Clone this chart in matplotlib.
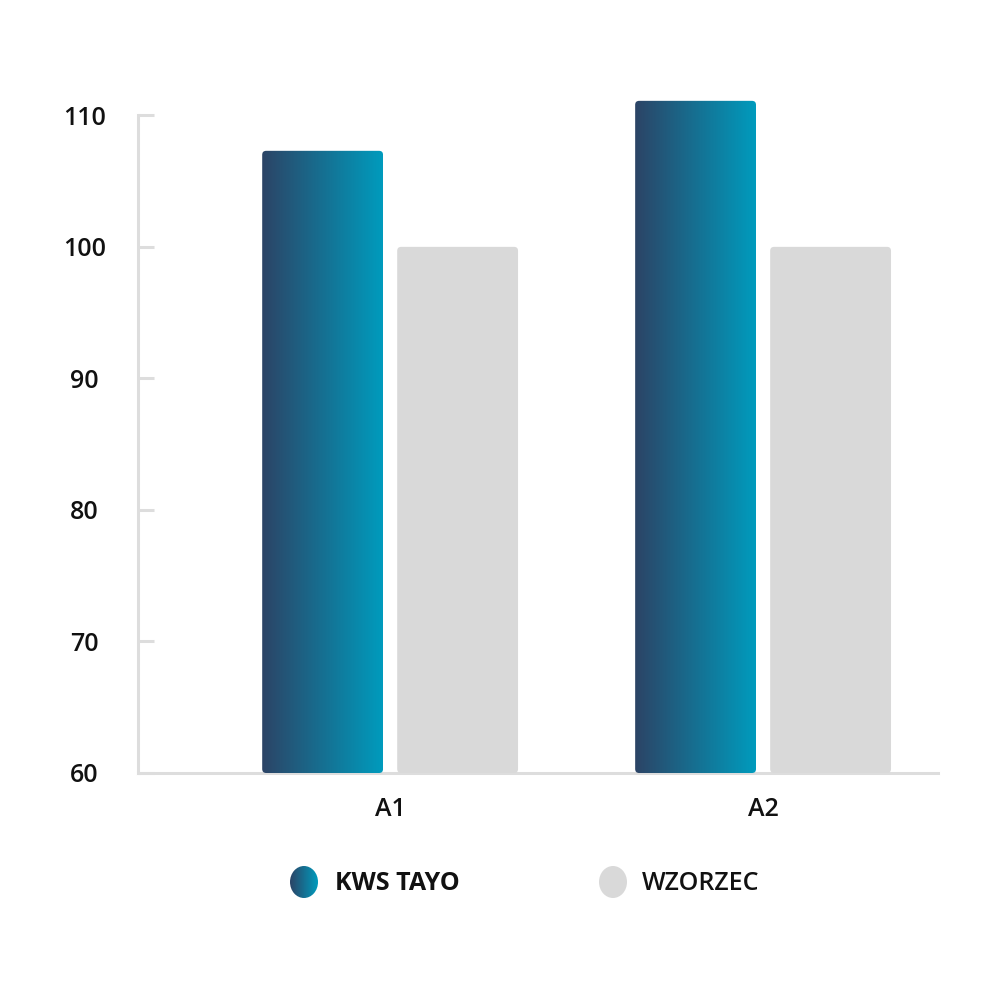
import numpy as np
import matplotlib.pyplot as plt
from matplotlib.patches import FancyBboxPatch, Ellipse
from matplotlib.colors import LinearSegmentedColormap

categories = ["A1", "A2"]
kws_tayo = [107.3, 111.1]
wzorzec = [100.0, 100.0]
series_names = ["KWS TAYO", "WZORZEC"]
y_ticks = [60, 70, 80, 90, 100, 110]

plt.rcParams['font.family'] = ['Open Sans', 'DejaVu Sans']

grad_cmap = LinearSegmentedColormap.from_list('kws', ['#2c4466', '#009bbd'])
grey = '#d9d9d9'
axis_col = '#dddddd'
text_col = '#111111'
FS = 18

fig = plt.figure(figsize=(10, 10), dpi=100)
ax = fig.add_axes([0.138, 0.227, 0.8, 0.684])
XLIM = (-0.676, 1.469)
YLIM = (60, 112)

x = np.arange(len(categories))
bw = 0.324
off = 0.181
base = 60
b1 = ax.bar(x - off, np.array(kws_tayo) - base, bw, bottom=base)
b2 = ax.bar(x + off, np.array(wzorzec) - base, bw, bottom=base)

r = 0.0107
asp = 28.4
grad = np.linspace(0, 1, 256).reshape(1, -1)
for bar in b1:
    bx, by, w, h = bar.get_x(), bar.get_y(), bar.get_width(), bar.get_height()
    bar.set_visible(False)
    p = FancyBboxPatch((bx, by), w, h, boxstyle=f"round,pad=0,rounding_size={r}",
                       mutation_aspect=asp, facecolor='none', edgecolor='none',
                       transform=ax.transData, zorder=3)
    ax.add_patch(p)
    im = ax.imshow(grad, extent=[bx, bx + w, by, by + h], aspect='auto',
                   cmap=grad_cmap, zorder=3, interpolation='bilinear')
    im.set_clip_path(p)
for bar in b2:
    bx, by, w, h = bar.get_x(), bar.get_y(), bar.get_width(), bar.get_height()
    bar.set_visible(False)
    p = FancyBboxPatch((bx, by), w, h, boxstyle=f"round,pad=0,rounding_size={r}",
                       mutation_aspect=asp, facecolor=grey, edgecolor='none',
                       transform=ax.transData, zorder=3, clip_on=False)
    ax.add_patch(p)

ax.set_xlim(*XLIM)
ax.set_ylim(*YLIM)
ax.set_xticks(x)
ax.set_xticklabels(categories)
ax.set_yticks(y_ticks)
for s in ['top', 'right']:
    ax.spines[s].set_visible(False)
for s in ['left', 'bottom']:
    ax.spines[s].set_color(axis_col)
    ax.spines[s].set_linewidth(2.2)
ax.spines['left'].set_bounds(60, 110)
ax.tick_params(axis='y', direction='in', length=11.5, width=2.2, color=axis_col,
               pad=38.5, labelsize=FS, labelcolor=text_col)
ax.tick_params(axis='x', length=0, pad=17, labelsize=FS, labelcolor=text_col)
for lab in ax.get_yticklabels():
    lab.set_horizontalalignment('center')
for lab in ax.get_yticklabels() + ax.get_xticklabels():
    lab.set_fontweight('semibold')

# legend
lg = fig.add_axes([0, 0, 1, 1])
lg.set_axis_off()
e1 = Ellipse((304, 882), 28, 32, facecolor='none', edgecolor='none')
lg.add_patch(e1)
im = lg.imshow(grad, extent=[290, 318, 898, 866], aspect='auto', cmap=grad_cmap,
               interpolation='bilinear')
im.set_clip_path(e1)
lg.set_xlim(0, 1000)
lg.set_ylim(1000, 0)
lg.text(335, 883, series_names[0], fontsize=FS, fontweight='bold', va='center',
        ha='left', color=text_col)
e2 = Ellipse((613, 882), 28, 32, facecolor=grey, edgecolor='none')
lg.add_patch(e2)
lg.text(642, 883, series_names[1], fontsize=FS, fontweight='semibold', va='center',
        ha='left', color=text_col)

fig.savefig('out.png', dpi=100, facecolor='white')
